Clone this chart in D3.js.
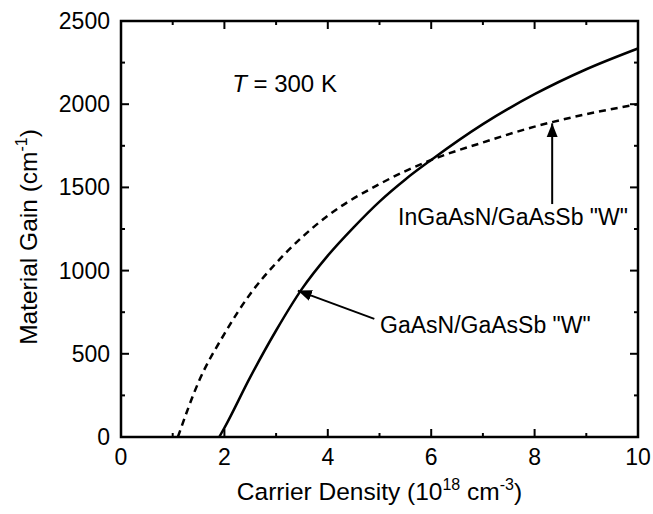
<!DOCTYPE html>
<html>
<head>
<meta charset="utf-8">
<script src="https://cdn.jsdelivr.net/npm/d3@7"></script>
<style>
  body { margin: 0; background: #fff; }
  text { font-family: "Liberation Sans", Arial, sans-serif; fill: #000; }
</style>
</head>
<body>
<svg width="653" height="514"></svg>
<script>
var width = 653;
var height = 514;
var margin = {left: 121, right: 15, top: 21, bottom: 77};

// GaAsN/GaAsSb "W" (solid)
var gaasnX = [1.9, 2, 2.5, 3, 3.5, 4, 4.5, 5, 5.5, 6, 7, 8, 9, 10];
var gaasnY = [0, 55, 360, 640, 890, 1090, 1260, 1415, 1548, 1665, 1880, 2060, 2210, 2335];
// InGaAsN/GaAsSb "W" (dashed)
var ingaasnX = [1.1, 1.5, 2, 2.5, 3, 3.5, 4, 5, 6, 7, 8, 9, 10];
var ingaasnY = [0, 330, 620, 860, 1045, 1200, 1330, 1520, 1665, 1770, 1865, 1940, 2000];

var xTicks = [0, 2, 4, 6, 8, 10];
var xMinor = [1, 3, 5, 7, 9];
var yTicks = [0, 500, 1000, 1500, 2000, 2500];
var yMinor = [250, 750, 1250, 1750, 2250];

var svg = d3.select("svg");

var xScale = d3.scaleLinear()
    .domain([0, 10])
    .range([margin.left, width - margin.right]);
var yScale = d3.scaleLinear()
    .domain([0, 2500])
    .range([height - margin.bottom, margin.top]);

var x0 = xScale(0), x1 = xScale(10), y0 = yScale(0), y1 = yScale(2500);

// ticks on all four sides, pointing inward
function ticks(axis, vals, len) {
    var g = svg.append("g").attr("stroke", "#000").attr("stroke-width", 2);
    vals.forEach(function(v) {
        if (axis == "x") {
            g.append("line").attr("x1", xScale(v)).attr("x2", xScale(v)).attr("y1", y0).attr("y2", y0 - len);
            g.append("line").attr("x1", xScale(v)).attr("x2", xScale(v)).attr("y1", y1).attr("y2", y1 + len);
        } else {
            g.append("line").attr("y1", yScale(v)).attr("y2", yScale(v)).attr("x1", x0).attr("x2", x0 + len);
            g.append("line").attr("y1", yScale(v)).attr("y2", yScale(v)).attr("x1", x1).attr("x2", x1 - len);
        }
    });
}
ticks("x", xTicks, 8);
ticks("x", xMinor, 4);
ticks("y", yTicks, 8);
ticks("y", yMinor, 4);

svg.append("rect")
    .attr("x", x0).attr("y", y1)
    .attr("width", x1 - x0).attr("height", y0 - y1)
    .attr("fill", "none").attr("stroke", "#000").attr("stroke-width", 2.5);

svg.selectAll(".xl").data(xTicks).enter().append("text")
    .attr("x", d => xScale(d)).attr("y", y0 + 28)
    .attr("text-anchor", "middle").attr("font-size", 23)
    .text(d => d);
svg.selectAll(".yl").data(yTicks).enter().append("text")
    .attr("x", x0 - 11).attr("y", d => yScale(d) + 8)
    .attr("text-anchor", "end").attr("font-size", 23)
    .text(d => d);

var line = d3.line()
    .x(d => xScale(d[0]))
    .y(d => yScale(d[1]))
    .curve(d3.curveMonotoneX);

svg.append("path")
    .datum(d3.zip(gaasnX, gaasnY))
    .attr("d", line)
    .attr("fill", "none").attr("stroke", "#000").attr("stroke-width", 2.5);
svg.append("path")
    .datum(d3.zip(ingaasnX, ingaasnY))
    .attr("d", line)
    .attr("fill", "none").attr("stroke", "#000").attr("stroke-width", 2.5)
    .attr("stroke-dasharray", "7,5");

// axis titles
var xt = svg.append("text")
    .attr("x", (x0 + x1) / 2).attr("y", 500)
    .attr("text-anchor", "middle").attr("font-size", 24.5);
xt.append("tspan").text("Carrier Density (10");
xt.append("tspan").attr("font-size", 16).attr("dy", -10).text("18");
xt.append("tspan").attr("dy", 10).text(" cm");
xt.append("tspan").attr("font-size", 16).attr("dy", -10).text("-3");
xt.append("tspan").attr("dy", 10).text(")");

var yt = svg.append("text")
    .attr("transform", "translate(37," + ((y0 + y1) / 2 + 8) + ") rotate(-90)")
    .attr("text-anchor", "middle").attr("font-size", 24.5);
yt.append("tspan").text("Material Gain (cm");
yt.append("tspan").attr("font-size", 16).attr("dy", -10).text("-1");
yt.append("tspan").attr("dy", 10).text(")");

// annotations
var tt = svg.append("text")
    .attr("x", xScale(2.15)).attr("y", yScale(2075))
    .attr("font-size", 24);
tt.append("tspan").attr("font-style", "italic").text("T");
tt.append("tspan").text(" = 300 K");

svg.append("defs").append("marker")
    .attr("id", "arr").attr("viewBox", "0 0 10 10")
    .attr("refX", 10).attr("refY", 5)
    .attr("markerWidth", 7).attr("markerHeight", 7)
    .attr("orient", "auto")
    .append("path").attr("d", "M0,1 L10,5 L0,9 z").attr("fill", "#000");

svg.append("text")
    .attr("x", xScale(5.36)).attr("y", yScale(1274))
    .attr("font-size", 23)
    .text("InGaAsN/GaAsSb \"W\"");
svg.append("line")
    .attr("x1", xScale(8.34)).attr("y1", yScale(1400))
    .attr("x2", xScale(8.34)).attr("y2", yScale(1885))
    .attr("stroke", "#000").attr("stroke-width", 2)
    .attr("marker-end", "url(#arr)");

svg.append("text")
    .attr("x", xScale(5.01)).attr("y", yScale(625))
    .attr("font-size", 23)
    .text("GaAsN/GaAsSb \"W\"");
svg.append("line")
    .attr("x1", xScale(4.9)).attr("y1", yScale(710))
    .attr("x2", xScale(3.42)).attr("y2", yScale(880))
    .attr("stroke", "#000").attr("stroke-width", 2)
    .attr("marker-end", "url(#arr)");
</script>
</body>
</html>
